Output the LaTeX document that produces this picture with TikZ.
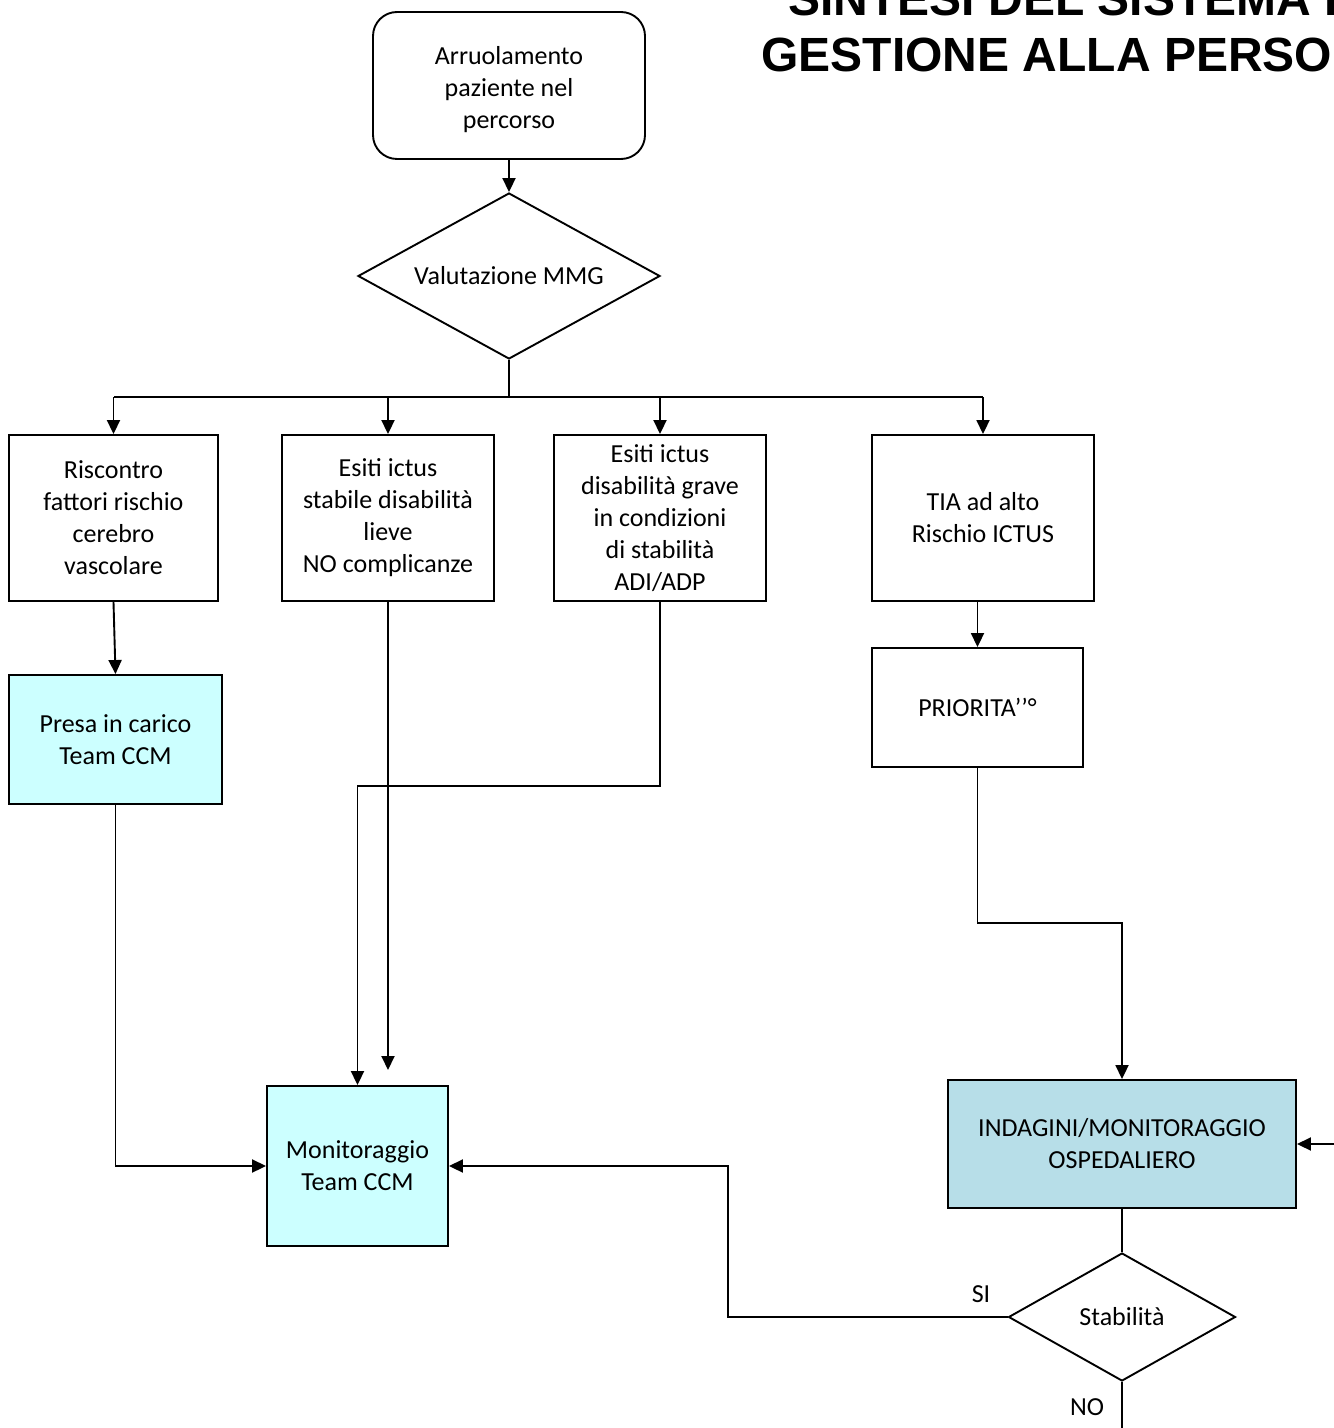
\documentclass[tikz,border=0pt]{standalone}
\usepackage{fontspec}
\setmainfont{Carlito}
\newfontfamily\titlefont{Liberation Sans}
\usetikzlibrary{shapes.geometric,arrows.meta,calc}
\definecolor{ccmcyan}{HTML}{CCFFFF}
\definecolor{hospblue}{HTML}{B7DEE8}
\begin{document}
\begin{tikzpicture}[x=0.5pt,y=-0.5pt,
  every node/.style={font=\fontsize{13}{16}\selectfont},
  box/.style={draw,line width=0.95pt,rectangle,align=center,inner sep=0pt},
  rbox/.style={box,rounded corners=12pt},
  dia/.style={draw,line width=0.95pt,diamond,align=center,inner sep=0pt},
  conn/.style={line width=0.95pt},
  arr/.style={conn,-{Triangle[length=7pt,width=6.5pt]}},
  lbl/.style={inner sep=0pt},
  titletext/.style={anchor=base west,inner sep=0pt,font=\titlefont\bfseries\fontsize{24}{28}\selectfont}
]
\useasboundingbox (0,0) rectangle (1333,1428);
% title
\node[titletext] (t1) at (788,16) {SINTESI DEL SISTEMA DI};
\node[titletext] (t2) at (761,72) {GESTIONE ALLA PERSONA};
% nodes
\node[rbox,minimum width=136pt,minimum height=73.5pt] (start) at (509,85.5) {\rule{0pt}{13.5pt}Arruolamento\\paziente nel\\percorso};
\node[dia,aspect=1.82,minimum width=151pt,minimum height=83pt] (d1) at (509,276) {Valutazione MMG};
\node[box,minimum width=104.5pt,minimum height=83pt] (b1) at (113.5,518) {Riscontro\\fattori rischio\\cerebro\\vascolare};
\node[box,minimum width=106pt,minimum height=83pt] (b2) at (388,518) {Esiti ictus\\stabile disabilità\\lieve\\NO complicanze};
\node[box,minimum width=106pt,minimum height=83pt] (b3) at (660,518) {Esiti ictus\\disabilità grave\\in condizioni\\di stabilità\\ADI/ADP};
\node[box,minimum width=111pt,minimum height=83pt] (b4) at (983,518) {TIA ad alto\\Rischio ICTUS};
\node[box,fill=ccmcyan,minimum width=106.5pt,minimum height=64.5pt] (b5) at (115.5,739.5) {Presa in carico\\Team CCM};
\node[box,minimum width=105.5pt,minimum height=59.5pt] (b6) at (977.5,707.5) {PRIORITA’’°};
\node[box,fill=ccmcyan,minimum width=90.5pt,minimum height=80pt] (mon) at (357.5,1166) {Monitoraggio\\Team CCM};
\node[box,fill=hospblue,minimum width=174pt,minimum height=64pt] (ind) at (1122,1144) {INDAGINI/MONITORAGGIO\\OSPEDALIERO};
\node[dia,aspect=1.77,minimum width=113.5pt,minimum height=64pt] (d2) at (1122,1317) {Stabilità};
% labels
\node[lbl] (si) at (981,1294) {SI};
\node[lbl] (no) at (1087,1407) {NO};
% coordinates
\coordinate (bus) at (509,397);
\coordinate (b2end) at (388,1070);
\coordinate (rin) at (1340,1144);
\coordinate (bot) at (1122,1440);
\coordinate (siturn) at (728,1317);
% connectors
\draw[arr] (start.south) -- (d1.north);
\draw[conn] (d1.south) -- (bus);
\draw[conn] (bus) -- (bus -| b1.north) (bus) -- (bus -| b4.north);
\draw[arr] (bus -| b1.north) -- (b1.north);
\draw[arr] (bus -| b2.north) -- (b2.north);
\draw[arr] (bus -| b3.north) -- (b3.north);
\draw[arr] (bus -| b4.north) -- (b4.north);
\draw[arr] (b1.south) -- (b5.north);
\draw[arr] (b6.north |- b4.south) -- (b6.north);
\draw[arr] (b6.south) -- ++(0,155) -| (ind.north);
\draw[arr] (rin) -- (ind.east);
\draw[conn] (ind.south) -- (d2.north);
\draw[conn] (d2.south) -- (bot);
\draw[arr] (d2.west) -- (siturn) |- (mon.east);
\draw[arr] (b5.south) |- (mon.west);
\draw[arr] (b2.south) -- (b2end);
\draw[arr] (b3.south) -- ++(0,184) -| (mon.north);
\end{tikzpicture}
\end{document}
